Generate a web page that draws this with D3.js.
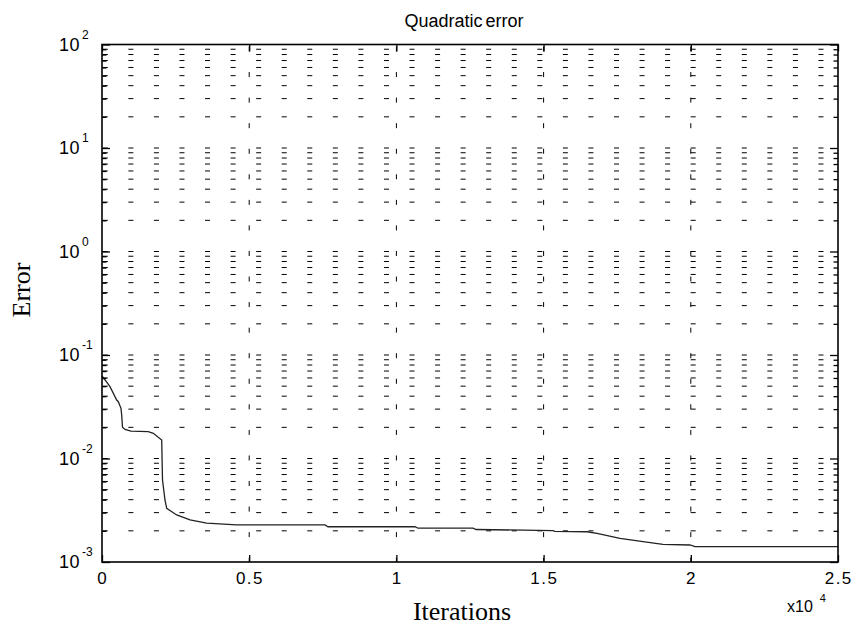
<!DOCTYPE html>
<html>
<head>
<meta charset="utf-8">
<script src="https://cdn.jsdelivr.net/npm/d3@7"></script>
<style>
  body { margin: 0; background: #fff; }
  text { fill: #000; }
</style>
</head>
<body>
<div id="chart"></div>
<script>
// values
const iterations = [0, 102, 272, 499, 554, 645, 669, 696, 781, 985, 1573, 1743, 2028, 2055, 2140, 2198,
  2537, 2989, 3556, 4575, 7575, 7676, 10632, 10734, 12602, 12704, 15319, 15387, 16474, 16813,
  17595, 18376, 19055, 19972, 20142, 25000];
const errors = [0.0627, 0.0574, 0.0494, 0.0367, 0.0354, 0.0305, 0.0263, 0.0201, 0.0191, 0.0184, 0.0182,
  0.0175, 0.0151, 0.0062, 0.00397, 0.00330, 0.00285, 0.00255, 0.00237, 0.00228, 0.00228, 0.00219,
  0.00219, 0.00212, 0.00212, 0.00206, 0.00201, 0.00198, 0.00196, 0.00189, 0.00169, 0.00157,
  0.00148, 0.00146, 0.00141, 0.00141];
const xTicks = [0, 5000, 10000, 15000, 20000, 25000];
const xTickLabels = ["0", "0.5", "1", "1.5", "2", "2.5"];
const yExponents = [-3, -2, -1, 0, 1, 2];

const W = 854, H = 625;
const margin = { top: 44.5, right: 16, bottom: 63, left: 102 },
      width = W - margin.left - margin.right,
      height = H - margin.top - margin.bottom;

const sans = "'Liberation Sans', Arial, sans-serif";
const serif = "'Liberation Serif', 'Times New Roman', serif";

const svg = d3.select("#chart")
  .append("svg")
  .attr("width", W)
  .attr("height", H)
  .append("g")
  .attr("transform", `translate(${margin.left},${margin.top})`);

const x = d3.scaleLinear().domain([0, 25000]).range([0, width]);
const y = d3.scaleLog().domain([1e-3, 1e2]).range([height, 0]);

const majorY = yExponents.map(e => Math.pow(10, e));
const minorY = [];
yExponents.slice(0, -1).forEach(e => {
  for (let m = 2; m <= 9; m++) minorY.push(m * Math.pow(10, e));
});

// dashed grid
const dash = "5,20.56";
svg.append("g").selectAll("line")
  .data(majorY.slice(1, -1).concat(minorY))
  .enter().append("line")
  .attr("x1", 0.8).attr("x2", width)
  .attr("y1", d => y(d)).attr("y2", d => y(d))
  .attr("stroke", "#000").attr("stroke-width", 1)
  .attr("stroke-dasharray", dash);

svg.append("g").selectAll("line")
  .data(xTicks.slice(1, -1))
  .enter().append("line")
  .attr("x1", d => x(d)).attr("x2", d => x(d))
  .attr("y1", 2).attr("y2", height)
  .attr("stroke", "#000").attr("stroke-width", 1)
  .attr("stroke-dasharray", dash);

// curve
const line = d3.line()
  .x((d, i) => x(iterations[i]))
  .y(d => y(d));

svg.append("path")
  .datum(errors)
  .attr("fill", "none")
  .attr("stroke", "#222")
  .attr("stroke-width", 1.3)
  .attr("d", line);

// ticks (inward, on all four sides)
function styleAxis(g) {
  g.select(".domain").remove();
  g.selectAll(".tick line").attr("stroke", "#000").attr("stroke-width", 1.3);
  g.selectAll(".tick text").remove();
}
svg.append("g").call(d3.axisLeft(y).tickValues(majorY).tickSize(-8)).call(styleAxis);
svg.append("g").call(d3.axisLeft(y).tickValues(minorY).tickSize(-4.5)).call(styleAxis);
svg.append("g").attr("transform", `translate(${width},0)`)
  .call(d3.axisRight(y).tickValues(majorY).tickSize(-8)).call(styleAxis);
svg.append("g").attr("transform", `translate(${width},0)`)
  .call(d3.axisRight(y).tickValues(minorY).tickSize(-4.5)).call(styleAxis);
svg.append("g").attr("transform", `translate(0,${height})`)
  .call(d3.axisBottom(x).tickValues(xTicks).tickSize(-7)).call(styleAxis);
svg.append("g")
  .call(d3.axisTop(x).tickValues(xTicks).tickSize(-7)).call(styleAxis);

// box
svg.append("rect")
  .attr("width", width).attr("height", height)
  .attr("fill", "none").attr("stroke", "#000").attr("stroke-width", 1.6);

// x tick labels
svg.append("g").selectAll("text")
  .data(xTicks)
  .enter().append("text")
  .attr("x", d => x(d) + 0.75)
  .attr("y", height + 21.5)
  .attr("text-anchor", "middle")
  .style("font-family", sans)
  .style("font-size", "17px")
  .style("letter-spacing", "1.5px")
  .text((d, i) => xTickLabels[i]);

// y tick labels 10^n
const yl = svg.append("g").selectAll("g")
  .data(yExponents)
  .enter().append("g")
  .attr("transform", e => `translate(0,${y(Math.pow(10, e))})`);
yl.append("text")
  .attr("x", -22).attr("y", 6)
  .attr("text-anchor", "end")
  .style("font-family", sans)
  .style("font-size", "18px")
  .style("letter-spacing", "0.5px")
  .text("10");
yl.append("text")
  .attr("x", -20).attr("y", -6)
  .style("font-family", sans)
  .style("font-size", "12px")
  .text(e => e < 0 ? "-" + Math.abs(e) : e);

// exponent label of x axis
const xe = svg.append("text")
  .attr("x", 685).attr("y", height + 49.5)
  .style("font-family", sans)
  .style("font-size", "16px");
xe.append("tspan").text("x10");
xe.append("tspan").attr("dx", 7).attr("dy", -10).style("font-size", "11px").text("4");

// title and axis labels
svg.append("text")
  .attr("x", width / 2 - 6).attr("y", -18)
  .attr("text-anchor", "middle")
  .style("font-family", sans)
  .style("font-size", "18px")
  .style("word-spacing", "-2px")
  .text("Quadratic error");

svg.append("text")
  .attr("x", width / 2 - 8).attr("y", height + 58)
  .attr("text-anchor", "middle")
  .style("font-family", serif)
  .style("font-size", "26px")
  .text("Iterations");

svg.append("text")
  .attr("transform", "rotate(-90)")
  .attr("x", -(290 - margin.top)).attr("y", -72)
  .attr("text-anchor", "middle")
  .style("font-family", serif)
  .style("font-size", "26px")
  .text("Error");
</script>
</body>
</html>
